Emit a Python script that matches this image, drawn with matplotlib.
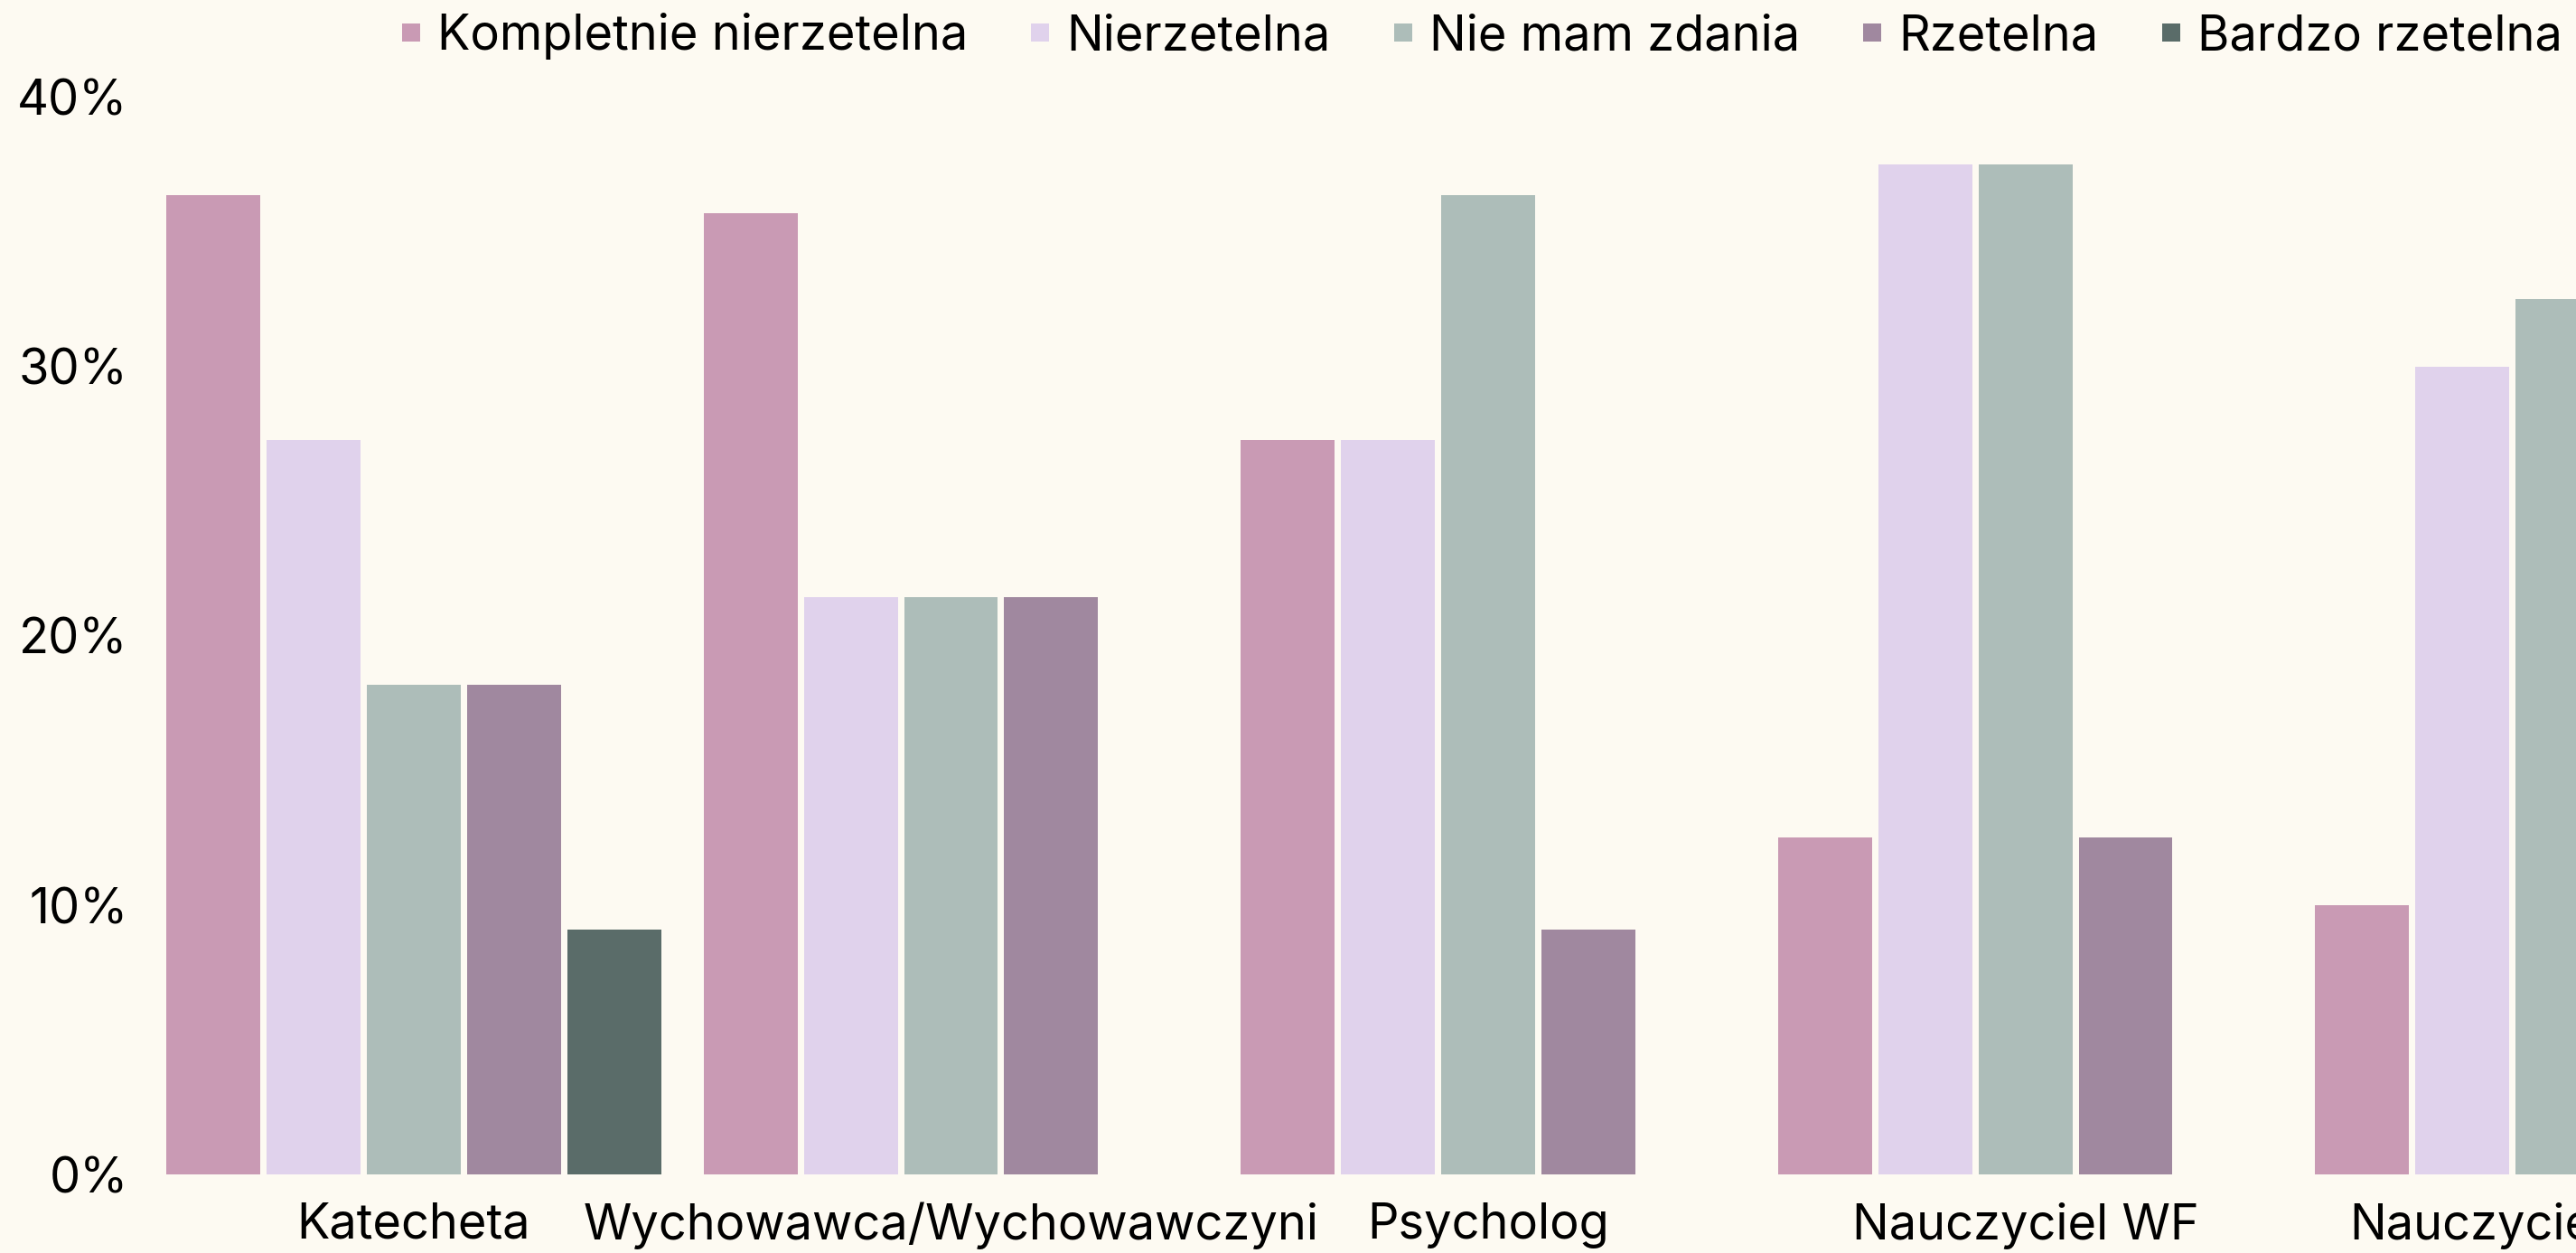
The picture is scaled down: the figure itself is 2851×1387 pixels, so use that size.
import numpy as np
from matplotlib import pyplot as plt
from matplotlib.lines import Line2D
from matplotlib.transforms import ScaledTranslation

# data (percent of answers); last group is cut off at the right edge
categories = ['Katecheta', 'Wychowawca/Wychowawczyni', 'Psycholog', 'Nauczyciel WF', 'Nauczyciel']
series = ['Kompletnie nierzetelna', 'Nierzetelna', 'Nie mam zdania', 'Rzetelna', 'Bardzo rzetelna']
kompletnie = [36.36, 35.71, 27.27, 12.5, 10.0]
nierzetelna = [27.27, 21.43, 27.27, 37.5, 30.0]
nie_mam = [18.18, 21.43, 36.36, 37.5, 32.5]
rzetelna = [18.18, 21.43, 9.09, 12.5, np.nan]
bardzo = [9.09, 0.0, 0.0, 0.0, np.nan]
yticks = [0, 10, 20, 30, 40]

colors = ['#C99AB4', '#E0D2EC', '#ADBDB9', '#A0889F', '#5A6C69']
bg = '#FDFAF2'
fs = 39

plt.rcParams['font.family'] = ['Inter', 'DejaVu Sans']

fig = plt.figure(figsize=(28.51, 13.87), dpi=100, facecolor=bg)
ax = fig.add_axes([0.0575, 0.0627, 0.9425, 0.8595])
ax.set_facecolor(bg)

slot = 0.1865
x = np.arange(len(categories))
all_vals = [kompletnie, nierzetelna, nie_mam, rzetelna, bardzo]
for j, vals in enumerate(all_vals):
    ax.bar(x + (j - 2) * slot, vals, width=slot - 0.0118, color=colors[j], linewidth=0)

ax.set_xlim(-0.4945, 4.025)
ax.set_ylim(0, 40)
ax.set_yticks(yticks)
ax.set_yticklabels([f'{t}%' for t in yticks])
ax.set_xticks(x)
ax.set_xticklabels(categories)
ax.tick_params(axis='both', length=0, labelsize=fs, colors='black')
ax.tick_params(axis='y', pad=16)
ax.tick_params(axis='x', pad=22)
for s in ax.spines.values():
    s.set_visible(False)

# the last label runs past the right edge in the original, keep its start position
last = ax.get_xticklabels()[-1]
last.set_ha('left')
last.set_transform(last.get_transform() + ScaledTranslation(-2.36, 0, fig.dpi_scale_trans))

handles = [Line2D([], [], marker='s', linestyle='none', markersize=14.4,
                  markerfacecolor=c, markeredgewidth=0) for c in colors]
fig.legend(handles, series, loc='center right', bbox_to_anchor=(0.9947, 1 - 40 / 1387),
           ncol=5, frameon=False, fontsize=fs, handlelength=0.37, handletextpad=0.35,
           columnspacing=1.3, borderpad=0, borderaxespad=0)

fig.savefig('out.png', dpi=100, facecolor=bg)
